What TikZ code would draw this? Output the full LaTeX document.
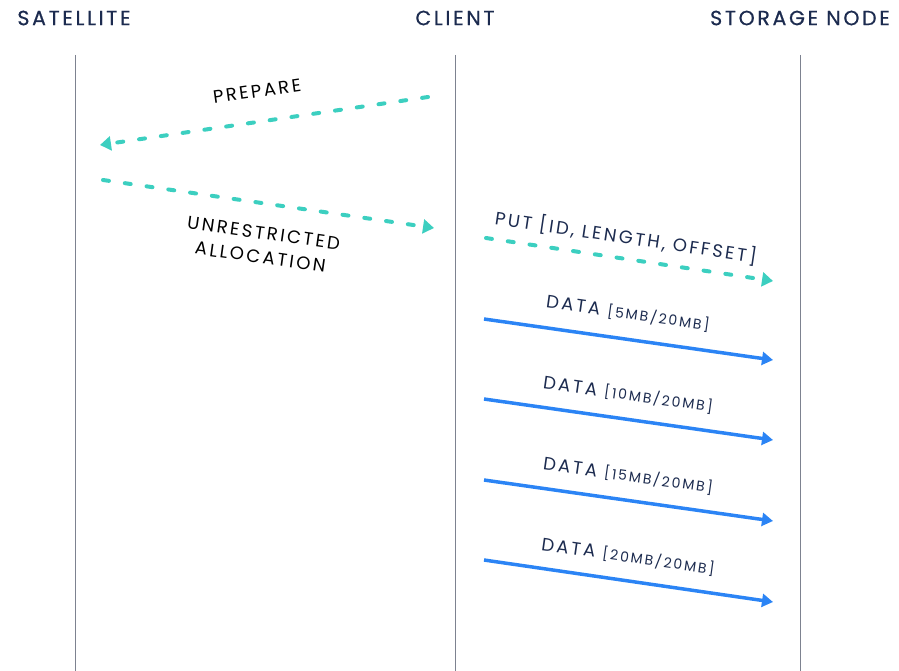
\documentclass[tikz,border=0pt]{standalone}
\usepackage{fontspec}
\setmainfont{Poppins}[LetterSpace=12]
\newfontfamily\headfont{Poppins}[LetterSpace=13,FakeBold=0.6]
\newfontfamily\lblfont{Poppins}[LetterSpace=14]
\usetikzlibrary{arrows.meta}
\definecolor{navy}{HTML}{1C2B4F}
\definecolor{teal}{HTML}{3CCFC0}
\definecolor{sendblue}{HTML}{2B84F5}
\definecolor{lifegray}{HTML}{7D8290}

\begin{document}
\begin{tikzpicture}[x=1pt,y=-1pt,
    lifeline/.style={lifegray,line width=1pt},
    head/.style={navy,font=\headfont\fontsize{20.5}{22}\selectfont},
    msgdash/.style={teal,line width=4pt,line cap=round,dash pattern=on 6pt off 16pt,
        -{Triangle[length=11pt,width=14pt,line cap=butt]}},
    msgdata/.style={sendblue,line width=3.5pt,
        -{Triangle[length=11pt,width=13pt]}},
    lbl/.style={font=\lblfont\fontsize{18}{24}\selectfont,inner sep=0pt}]
    \useasboundingbox (0,0) rectangle (899,671);

    % Headers
    \node[head] (sat) at (74,18) {SATELLITE};
    \node[head] (cli) at (455,18) {CLIENT};
    \node[head] (sto) at (800,18) {STORAGE NODE};

    % Lifelines
    \coordinate (satend) at (75,671);
    \coordinate (cliend) at (455,671);
    \coordinate (stoend) at (800,671);
    \draw[lifeline] (75,55) -- (satend);
    \draw[lifeline] (455,55) -- (cliend);
    \draw[lifeline] (800,55) -- (stoend);

    % Satellite <-> client
    \coordinate (p1) at (428,97);
    \coordinate (p2) at (100,145);
    \coordinate (u1) at (103,180);
    \coordinate (u2) at (434,228);
    \draw[msgdash] (p1) -- (p2);
    \draw[msgdash] (u1) -- (u2);
    \node[lbl,rotate=8] (prep) at (257,91) {PREPARE};
    \node[lbl,rotate=-8,align=center] (alloc) at (262,245) {UNRESTRICTED\\ALLOCATION};

    % Client -> storage node
    \coordinate (put1) at (486,238);
    \coordinate (put2) at (773,281);
    \draw[msgdash] (put1) -- (put2);
    \node[lbl,navy,rotate=-8.5] (put) at (626,237) {PUT [ID, LENGTH, OFFSET]};

    % Data pieces
    \coordinate (d1a) at (484,319);
    \coordinate (d1b) at (773,360);
    \coordinate (d2a) at (484,399);
    \coordinate (d2b) at (773,440);
    \coordinate (d3a) at (484,480);
    \coordinate (d3b) at (773,521);
    \coordinate (d4a) at (484,560);
    \coordinate (d4b) at (773,602);
    \draw[msgdata] (d1a) -- (d1b);
    \draw[msgdata] (d2a) -- (d2b);
    \draw[msgdata] (d3a) -- (d3b);
    \draw[msgdata] (d4a) -- (d4b);
    \node[lbl,navy,rotate=-8] (data1) at (628,314) {DATA {\lblfont\fontsize{14}{16}\selectfont[5MB/20MB]}};
    \node[lbl,navy,rotate=-8] (data2) at (628,395) {DATA {\lblfont\fontsize{14}{16}\selectfont[10MB/20MB]}};
    \node[lbl,navy,rotate=-8] (data3) at (628,476) {DATA {\lblfont\fontsize{14}{16}\selectfont[15MB/20MB]}};
    \node[lbl,navy,rotate=-8] (data4) at (628,557) {DATA {\lblfont\fontsize{14}{16}\selectfont[20MB/20MB]}};

\end{tikzpicture}
\end{document}
